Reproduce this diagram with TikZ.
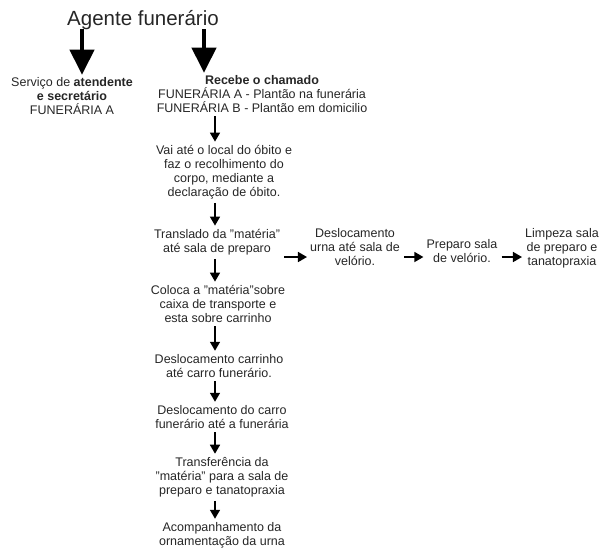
\documentclass[tikz,border=0pt]{standalone}
\usepackage{fontspec}
\setmainfont{Liberation Sans}
\usetikzlibrary{arrows.meta}
\tikzstyle{titulo}=[inner sep=0pt,%
                    anchor=base,%
                    text=black!85,%
                    font=\fontsize{20.5}{24}\selectfont]
\tikzstyle{etapa}=[align=center,%
                   inner sep=2pt,%
                   anchor=base,%
                   text=black!85,%
                   font=\fontsize{12.5}{14}\selectfont]
\tikzstyle{seta}=[-{Triangle[width=10pt,length=9pt]}, line width=1.6pt, shorten <=2pt, shorten >=1pt]
\tikzstyle{setagrande}=[-{Triangle[width=24pt,length=25pt]}, line width=4pt]
\begin{document}
\begin{tikzpicture}[x=1pt,y=-1pt]
            \useasboundingbox (0,0) rectangle (601,550);
            \coordinate (eixoA) at (82,0);
            \coordinate (eixoB) at (204,0);
            \coordinate (eixo)  at (215,0);
            \coordinate (nivel) at (0,257);
            % base = ultima linha de cada texto
            \node[titulo] (agente) at (143,25) {Agente funerário};
            \node[etapa] (servico) at (72,114) {Serviço de \textbf{atendente}\\\textbf{e secretário}\\FUNERÁRIA A};
            \node[etapa] (chamado) at (262,112) {\textbf{Recebe o chamado}\\FUNERÁRIA A - Plantão na funerária\\FUNERÁRIA B - Plantão em domicilio};
            \node[etapa] (obito) at (224,196) {Vai até o local do óbito e\\faz o recolhimento do\\corpo, mediante a\\declaração de óbito.};
            \node[etapa] (translado) at (217,252) {Translado da "matéria"\\até sala de preparo};
            \node[etapa] (urna) at (355,265) {Deslocamento\\urna até sala de\\velório.};
            \node[etapa] (preparo) at (462,262) {Preparo sala\\de velório.};
            \node[etapa] (limpeza) at (562,265) {Limpeza sala\\de preparo e\\tanatopraxia};
            \node[etapa] (coloca) at (218,322) {Coloca a "matéria"sobre\\caixa de transporte e\\esta sobre carrinho};
            \node[etapa] (carrinho) at (219,377) {Deslocamento carrinho\\até carro funerário.};
            \node[etapa] (carro) at (222,428) {Deslocamento do carro\\funerário até a funerária};
            \node[etapa] (transferencia) at (222,494) {Transferência da\\"matéria" para a sala de\\preparo e tanatopraxia};
            \node[etapa] (acompanhamento) at (222,545) {Acompanhamento da\\ornamentação da urna};
            \draw [setagrande] (agente.south -| eixoA) -- (servico.north -| eixoA);
            \draw [setagrande] (agente.south -| eixoB) -- (chamado.north -| eixoB);
            \draw [seta] (chamado.south -| eixo) -- (obito.north -| eixo);
            \draw [seta] (obito.south -| eixo) -- (translado.north -| eixo);
            \draw [seta] (translado.south -| eixo) -- (coloca.north -| eixo);
            \draw [seta] (coloca.south -| eixo) -- (carrinho.north -| eixo);
            \draw [seta] (carrinho.south -| eixo) -- (carro.north -| eixo);
            \draw [seta] (carro.south -| eixo) -- (transferencia.north -| eixo);
            \draw [seta] (transferencia.south -| eixo) -- (acompanhamento.north -| eixo);
            \draw [seta] (translado.east |- nivel) -- (urna.west |- nivel);
            \draw [seta] (urna.east |- nivel) -- (preparo.west |- nivel);
            \draw [seta] (preparo.east |- nivel) -- (limpeza.west |- nivel);
\end{tikzpicture}
\end{document}
